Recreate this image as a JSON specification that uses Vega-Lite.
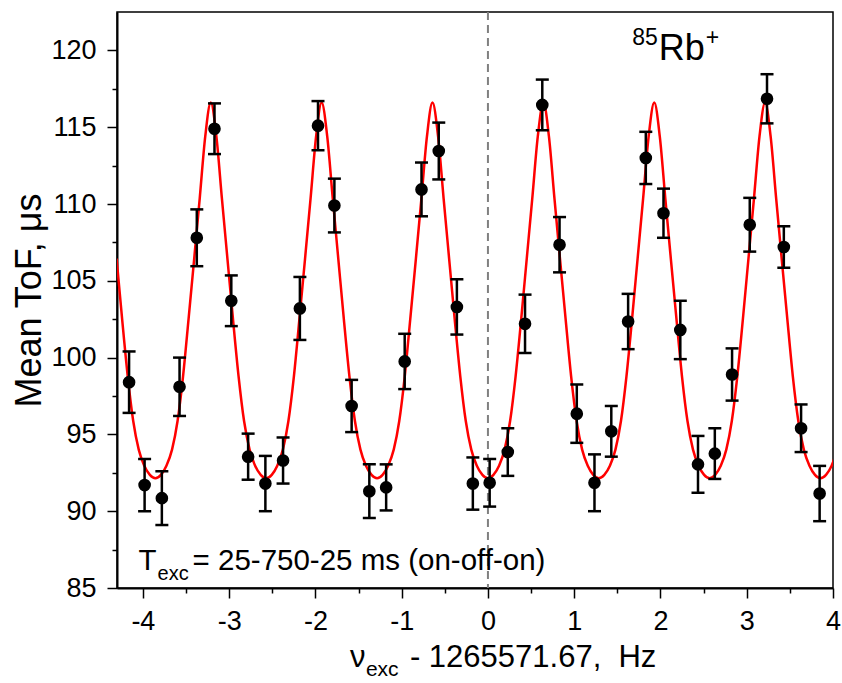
{
  "$schema": "https://vega.github.io/schema/vega-lite/v6.json",
  "width": 716,
  "height": 576,
  "autosize": {"type": "none"},
  "padding": {"left": 117, "top": 12, "right": 9, "bottom": 95},
  "background": "white",
  "config": {
    "font": "Liberation Sans",
    "view": {"stroke": "black", "strokeWidth": 1.5},
    "axis": {
      "grid": false,
      "domainColor": "black",
      "domainWidth": 2,
      "tickColor": "black",
      "tickWidth": 1.5,
      "labelColor": "black",
      "titleColor": "black",
      "labelFont": "Liberation Sans",
      "titleFont": "Liberation Sans",
      "labelFontSize": 27,
      "titleFontSize": 36,
      "titleFontWeight": "normal",
      "labelOverlap": false,
      "labelFlush": false,
      "labelBound": false
    }
  },
  "datasets": {
    "one": [{"k": 1}],
    "pts": [
      {"x": -4.16, "y": 98.4, "err": 2.0},
      {"x": -3.98, "y": 91.7, "err": 1.7},
      {"x": -3.78, "y": 90.85, "err": 1.75},
      {"x": -3.575, "y": 98.1, "err": 1.9},
      {"x": -3.375, "y": 107.8, "err": 1.85},
      {"x": -3.17, "y": 114.9, "err": 1.65},
      {"x": -2.975, "y": 103.7, "err": 1.65},
      {"x": -2.78, "y": 93.55, "err": 1.5},
      {"x": -2.58, "y": 91.8, "err": 1.8},
      {"x": -2.375, "y": 93.3, "err": 1.5},
      {"x": -2.18, "y": 103.2, "err": 2.05},
      {"x": -1.97, "y": 115.1, "err": 1.6},
      {"x": -1.78, "y": 109.9, "err": 1.75},
      {"x": -1.58, "y": 96.85, "err": 1.7},
      {"x": -1.375, "y": 91.3, "err": 1.75},
      {"x": -1.18, "y": 91.55, "err": 1.5},
      {"x": -0.965, "y": 99.75, "err": 1.8},
      {"x": -0.77, "y": 110.95, "err": 1.75},
      {"x": -0.57, "y": 113.45, "err": 1.85},
      {"x": -0.36, "y": 103.3, "err": 1.8},
      {"x": -0.175, "y": 91.8, "err": 1.7},
      {"x": 0.02, "y": 91.85, "err": 1.55},
      {"x": 0.23, "y": 93.85, "err": 1.55},
      {"x": 0.43, "y": 102.2, "err": 1.9},
      {"x": 0.63, "y": 116.45, "err": 1.65},
      {"x": 0.83, "y": 107.35, "err": 1.8},
      {"x": 1.03, "y": 96.35, "err": 1.9},
      {"x": 1.235, "y": 91.85, "err": 1.85},
      {"x": 1.43, "y": 95.2, "err": 1.65},
      {"x": 1.625, "y": 102.35, "err": 1.8},
      {"x": 1.83, "y": 113.0, "err": 1.7},
      {"x": 2.035, "y": 109.4, "err": 1.6},
      {"x": 2.23, "y": 101.8, "err": 1.9},
      {"x": 2.435, "y": 93.05, "err": 1.85},
      {"x": 2.63, "y": 93.75, "err": 1.65},
      {"x": 2.83, "y": 98.9, "err": 1.7},
      {"x": 3.035, "y": 108.65, "err": 1.75},
      {"x": 3.235, "y": 116.85, "err": 1.6},
      {"x": 3.43, "y": 107.2, "err": 1.35},
      {"x": 3.63, "y": 95.4, "err": 1.55},
      {"x": 3.845, "y": 91.15, "err": 1.8}
    ],
    "curve": [
      {"x": -4.305, "y": 106.45}, {"x": -4.241, "y": 102.54}, {"x": -4.176, "y": 98.80}, {"x": -4.112, "y": 95.87},
      {"x": -4.048, "y": 94.01}, {"x": -3.984, "y": 92.96}, {"x": -3.919, "y": 92.37}, {"x": -3.855, "y": 92.15},
      {"x": -3.791, "y": 92.37}, {"x": -3.727, "y": 92.96}, {"x": -3.662, "y": 94.01}, {"x": -3.598, "y": 95.87},
      {"x": -3.534, "y": 98.80}, {"x": -3.470, "y": 102.54}, {"x": -3.405, "y": 106.45}, {"x": -3.341, "y": 110.37},
      {"x": -3.277, "y": 114.40}, {"x": -3.213, "y": 116.60}, {"x": -3.148, "y": 114.40}, {"x": -3.084, "y": 110.37},
      {"x": -3.020, "y": 106.45}, {"x": -2.956, "y": 102.54}, {"x": -2.891, "y": 98.80}, {"x": -2.827, "y": 95.87},
      {"x": -2.763, "y": 94.01}, {"x": -2.699, "y": 92.96}, {"x": -2.634, "y": 92.37}, {"x": -2.570, "y": 92.15},
      {"x": -2.506, "y": 92.37}, {"x": -2.442, "y": 92.96}, {"x": -2.377, "y": 94.01}, {"x": -2.313, "y": 95.87},
      {"x": -2.249, "y": 98.80}, {"x": -2.185, "y": 102.54}, {"x": -2.120, "y": 106.45}, {"x": -2.056, "y": 110.37},
      {"x": -1.992, "y": 114.40}, {"x": -1.928, "y": 116.60}, {"x": -1.863, "y": 114.40}, {"x": -1.799, "y": 110.37},
      {"x": -1.735, "y": 106.45}, {"x": -1.671, "y": 102.54}, {"x": -1.606, "y": 98.80}, {"x": -1.542, "y": 95.87},
      {"x": -1.478, "y": 94.01}, {"x": -1.414, "y": 92.96}, {"x": -1.349, "y": 92.37}, {"x": -1.285, "y": 92.15},
      {"x": -1.221, "y": 92.37}, {"x": -1.157, "y": 92.96}, {"x": -1.092, "y": 94.01}, {"x": -1.028, "y": 95.87},
      {"x": -0.964, "y": 98.80}, {"x": -0.900, "y": 102.54}, {"x": -0.835, "y": 106.45}, {"x": -0.771, "y": 110.37},
      {"x": -0.707, "y": 114.40}, {"x": -0.643, "y": 116.60}, {"x": -0.578, "y": 114.40}, {"x": -0.514, "y": 110.37},
      {"x": -0.450, "y": 106.45}, {"x": -0.386, "y": 102.54}, {"x": -0.321, "y": 98.80}, {"x": -0.257, "y": 95.87},
      {"x": -0.193, "y": 94.01}, {"x": -0.129, "y": 92.96}, {"x": -0.064, "y": 92.37}, {"x": 0.0, "y": 92.15},
      {"x": 0.064, "y": 92.37}, {"x": 0.129, "y": 92.96}, {"x": 0.193, "y": 94.01}, {"x": 0.257, "y": 95.87},
      {"x": 0.321, "y": 98.80}, {"x": 0.386, "y": 102.54}, {"x": 0.450, "y": 106.45}, {"x": 0.514, "y": 110.37},
      {"x": 0.578, "y": 114.40}, {"x": 0.643, "y": 116.60}, {"x": 0.707, "y": 114.40}, {"x": 0.771, "y": 110.37},
      {"x": 0.835, "y": 106.45}, {"x": 0.900, "y": 102.54}, {"x": 0.964, "y": 98.80}, {"x": 1.028, "y": 95.87},
      {"x": 1.092, "y": 94.01}, {"x": 1.157, "y": 92.96}, {"x": 1.221, "y": 92.37}, {"x": 1.285, "y": 92.15},
      {"x": 1.349, "y": 92.37}, {"x": 1.414, "y": 92.96}, {"x": 1.478, "y": 94.01}, {"x": 1.542, "y": 95.87},
      {"x": 1.606, "y": 98.80}, {"x": 1.671, "y": 102.54}, {"x": 1.735, "y": 106.45}, {"x": 1.799, "y": 110.37},
      {"x": 1.863, "y": 114.40}, {"x": 1.928, "y": 116.60}, {"x": 1.992, "y": 114.40}, {"x": 2.056, "y": 110.37},
      {"x": 2.120, "y": 106.45}, {"x": 2.185, "y": 102.54}, {"x": 2.249, "y": 98.80}, {"x": 2.313, "y": 95.87},
      {"x": 2.377, "y": 94.01}, {"x": 2.442, "y": 92.96}, {"x": 2.506, "y": 92.37}, {"x": 2.570, "y": 92.15},
      {"x": 2.634, "y": 92.37}, {"x": 2.699, "y": 92.96}, {"x": 2.763, "y": 94.01}, {"x": 2.827, "y": 95.87},
      {"x": 2.891, "y": 98.80}, {"x": 2.956, "y": 102.54}, {"x": 3.020, "y": 106.45}, {"x": 3.084, "y": 110.37},
      {"x": 3.148, "y": 114.40}, {"x": 3.213, "y": 116.60}, {"x": 3.277, "y": 114.40}, {"x": 3.341, "y": 110.37},
      {"x": 3.405, "y": 106.45}, {"x": 3.470, "y": 102.54}, {"x": 3.534, "y": 98.80}, {"x": 3.598, "y": 95.87},
      {"x": 3.662, "y": 94.01}, {"x": 3.727, "y": 92.96}, {"x": 3.791, "y": 92.37}, {"x": 3.855, "y": 92.15},
      {"x": 3.919, "y": 92.37}, {"x": 3.984, "y": 92.96}, {"x": 4.048, "y": 94.01}
    ]
  },
  "layer": [
    {
      "data": {"name": "curve"},
      "mark": {"type": "line", "color": "#ff0000", "strokeWidth": 2.5, "interpolate": "monotone", "clip": true},
      "encoding": {
        "x": {
          "field": "x",
          "type": "quantitative",
          "scale": {"domain": [-4.3, 4], "nice": false, "zero": false},
          "axis": {
            "title": null,
            "values": [-4, -3.5, -3, -2.5, -2, -1.5, -1, -0.5, 0, 0.5, 1, 1.5, 2, 2.5, 3, 3.5, 4],
            "tickSize": {"condition": {"test": "datum.value % 1 !== 0", "value": 5}, "value": 10},
            "labelExpr": "datum.value % 1 === 0 ? toString(datum.value) : ''",
            "labelPadding": 10
          }
        },
        "y": {
          "field": "y",
          "type": "quantitative",
          "scale": {"domain": [85, 122.5], "nice": false, "zero": false},
          "axis": {
            "title": "Mean ToF, μs",
            "values": [85, 87.5, 90, 92.5, 95, 97.5, 100, 102.5, 105, 107.5, 110, 112.5, 115, 117.5, 120],
            "tickSize": {"condition": {"test": "datum.value % 5 !== 0", "value": 5}, "value": 10},
            "labelExpr": "datum.value % 5 === 0 ? toString(datum.value) : ''",
            "labelPadding": 11,
            "titlePadding": 2
          }
        }
      }
    },
    {
      "data": {"name": "one"},
      "mark": {"type": "rule", "color": "#808080", "strokeDash": [8, 5], "strokeWidth": 2},
      "encoding": {
        "x": {"datum": 0, "type": "quantitative"}
      }
    },
    {
      "data": {"name": "pts"},
      "mark": {
        "type": "errorbar",
        "color": "black",
        "thickness": 2.5,
        "opacity": 1,
        "ticks": {"size": 13, "thickness": 2.5, "color": "black", "opacity": 1},
        "rule": {"strokeWidth": 2.5, "color": "black", "opacity": 1}
      },
      "encoding": {
        "x": {"field": "x", "type": "quantitative", "title": null},
        "y": {"field": "y", "type": "quantitative", "title": "Mean ToF, μs"},
        "yError": {"field": "err"}
      }
    },
    {
      "data": {"name": "pts"},
      "mark": {"type": "circle", "size": 160, "color": "black", "opacity": 1},
      "encoding": {
        "x": {"field": "x", "type": "quantitative", "title": null},
        "y": {"field": "y", "type": "quantitative", "title": "Mean ToF, μs"}
      }
    },
    {
      "data": {"name": "one"},
      "mark": {"type": "text", "text": "T", "align": "left", "baseline": "alphabetic", "fontSize": 29.5, "color": "black"},
      "encoding": {"x": {"datum": -4.05, "type": "quantitative"}, "y": {"datum": 86.17, "type": "quantitative"}}
    },
    {
      "data": {"name": "one"},
      "mark": {"type": "text", "text": "exc", "align": "left", "baseline": "alphabetic", "fontSize": 20, "dx": 19, "dy": 10, "color": "black"},
      "encoding": {"x": {"datum": -4.05, "type": "quantitative"}, "y": {"datum": 86.17, "type": "quantitative"}}
    },
    {
      "data": {"name": "one"},
      "mark": {"type": "text", "text": "= 25-750-25 ms (on-off-on)", "align": "left", "baseline": "alphabetic", "fontSize": 29.5, "dx": 54, "color": "black"},
      "encoding": {"x": {"datum": -4.05, "type": "quantitative"}, "y": {"datum": 86.17, "type": "quantitative"}}
    },
    {
      "data": {"name": "one"},
      "mark": {"type": "text", "text": "Rb", "align": "left", "baseline": "alphabetic", "fontSize": 36, "color": "black"},
      "encoding": {"x": {"datum": 1.98, "type": "quantitative"}, "y": {"datum": 119.35, "type": "quantitative"}}
    },
    {
      "data": {"name": "one"},
      "mark": {"type": "text", "text": "85", "align": "right", "baseline": "alphabetic", "fontSize": 23, "dx": -1, "dy": -15, "color": "black"},
      "encoding": {"x": {"datum": 1.98, "type": "quantitative"}, "y": {"datum": 119.35, "type": "quantitative"}}
    },
    {
      "data": {"name": "one"},
      "mark": {"type": "text", "text": "+", "align": "left", "baseline": "alphabetic", "fontSize": 23, "dx": 47, "dy": -15, "color": "black"},
      "encoding": {"x": {"datum": 1.98, "type": "quantitative"}, "y": {"datum": 119.35, "type": "quantitative"}}
    },
    {
      "data": {"name": "one"},
      "mark": {"type": "text", "text": "ν", "align": "left", "baseline": "alphabetic", "fontSize": 31, "color": "black"},
      "encoding": {"x": {"datum": -1.6, "type": "quantitative"}, "y": {"datum": 79.86, "type": "quantitative"}}
    },
    {
      "data": {"name": "one"},
      "mark": {"type": "text", "text": "exc", "align": "left", "baseline": "alphabetic", "fontSize": 21, "dx": 16, "dy": 9, "color": "black"},
      "encoding": {"x": {"datum": -1.6, "type": "quantitative"}, "y": {"datum": 79.86, "type": "quantitative"}}
    },
    {
      "data": {"name": "one"},
      "mark": {"type": "text", "text": "- 1265571.67,\u00a0\u00a0Hz", "align": "left", "baseline": "alphabetic", "fontSize": 31, "dx": 60, "color": "black"},
      "encoding": {"x": {"datum": -1.6, "type": "quantitative"}, "y": {"datum": 79.86, "type": "quantitative"}}
    }
  ]
}
